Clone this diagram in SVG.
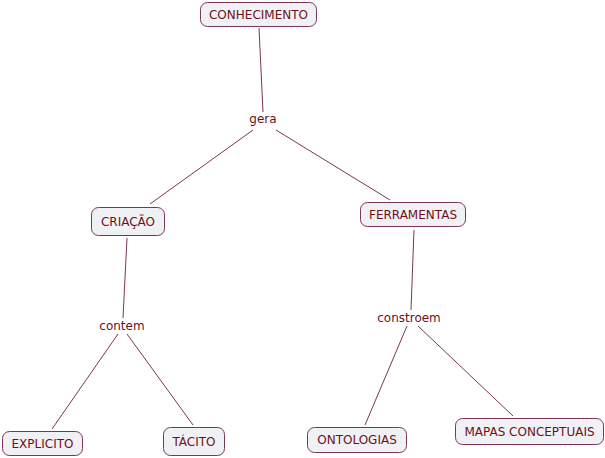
<svg xmlns="http://www.w3.org/2000/svg" width="605" height="458" viewBox="0 0 605 458">
<style>
.box{fill:#f0f1f4;stroke:#7a3558;stroke-width:1}
.t{font-family:"DejaVu Sans",Verdana,sans-serif;font-size:12px;fill:#6e1018;text-anchor:middle;dominant-baseline:central}
.c{stroke:#7a3558;stroke-width:1;fill:none}
</style>
<rect width="605" height="458" fill="#fff"/>
<g id="connectors">
<line class="c" x1="259" y1="28" x2="263" y2="112"/>
<line class="c" x1="253" y1="130" x2="150" y2="204"/>
<line class="c" x1="276" y1="130" x2="390" y2="200"/>
<line class="c" x1="127" y1="238" x2="123" y2="318"/>
<line class="c" x1="118" y1="334" x2="52" y2="429"/>
<line class="c" x1="127" y1="334" x2="193" y2="425"/>
<line class="c" x1="414" y1="230" x2="411" y2="310"/>
<line class="c" x1="407" y1="326" x2="365" y2="425"/>
<line class="c" x1="418" y1="326" x2="513" y2="416"/>
</g>
<g id="lbl-gera"><text class="t" x="263" y="119">gera</text></g>
<g id="lbl-contem"><text class="t" x="122" y="326">contem</text></g>
<g id="lbl-constroem"><text class="t" x="409" y="318">constroem</text></g>
<g id="n-conhecimento"><rect class="box" x="200.5" y="2.5" width="116" height="24" rx="7"/><text class="t" x="258.5" y="14.5">CONHECIMENTO</text></g>
<g id="n-criacao"><rect class="box" x="91.5" y="207.5" width="73" height="28" rx="7"/><text class="t" x="128" y="221.5">CRIAÇÃO</text></g>
<g id="n-ferramentas"><rect class="box" x="360.5" y="202.5" width="105" height="24" rx="7"/><text class="t" x="413" y="214.5">FERRAMENTAS</text></g>
<g id="n-explicito"><rect class="box" x="2.5" y="431.5" width="80" height="24" rx="7"/><text class="t" x="42.5" y="443.5">EXPLICITO</text></g>
<g id="n-tacito"><rect class="box" x="163.5" y="427.5" width="61" height="28" rx="7"/><text class="t" x="194" y="441.5">TÁCITO</text></g>
<g id="n-ontologias"><rect class="box" x="307.5" y="427.5" width="99" height="25" rx="7"/><text class="t" x="357" y="440">ONTOLOGIAS</text></g>
<g id="n-mapas"><rect class="box" x="455.5" y="418.5" width="148" height="26" rx="7"/><text class="t" x="529.5" y="431.5">MAPAS CONCEPTUAIS</text></g>
</svg>
